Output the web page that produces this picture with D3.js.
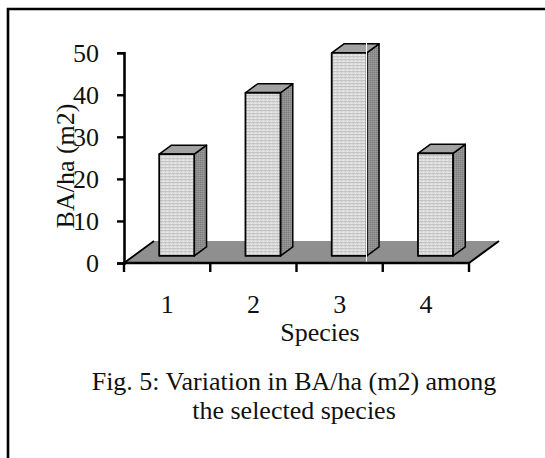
<!DOCTYPE html>
<html>
<head>
<meta charset="utf-8">
<script src="https://cdn.jsdelivr.net/npm/d3@7"></script>
<style>
  body { margin: 0; background: #fff; }
  text { font-family: "Liberation Serif", "Times New Roman", serif; fill: #111; }
</style>
</head>
<body>
<div id="chart"></div>
<script>
// data
const species = ["1", "2", "3", "4"];
const baPerHa = [24.2, 38.8, 48.3, 24.4];
const yTicks = [0, 10, 20, 30, 40, 50];
const yTitle = "BA/ha (m2)";
const xTitle = "Species";
const caption = ["Fig. 5: Variation in BA/ha (m2) among", "the selected species"];

const width = 545, height = 458;

const svg = d3.select("#chart").append("svg")
    .attr("width", width)
    .attr("height", height);

// fake 3d: floor depth offset
const depthX = 30, depthY = 22;
const barFront = 0.32, barBack = 0.73;

const x = d3.scaleBand()
    .domain(species)
    .range([124, 469])
    .paddingInner(0.594)
    .paddingOuter(0.297);

const y = d3.scaleLinear()
    .domain([0, 50])
    .range([263, 52.7]);

function proj(px, v, depth) {
    return [px + depth * depthX, y(v) - depth * depthY];
}

// patterns for the bar faces
const defs = svg.append("defs");
const pf = defs.append("pattern").attr("id", "front")
    .attr("width", 4).attr("height", 3).attr("patternUnits", "userSpaceOnUse");
pf.append("rect").attr("width", 4).attr("height", 3).attr("fill", "#dedede");
pf.append("rect").attr("y", 2).attr("width", 4).attr("height", 1).attr("fill", "#c4c4c4");
pf.append("rect").attr("x", 1).attr("y", 0).attr("width", 1).attr("height", 1).attr("fill", "#cbcbcb");
pf.append("rect").attr("x", 3).attr("y", 1).attr("width", 1).attr("height", 1).attr("fill", "#ececec");

const ps = defs.append("pattern").attr("id", "side")
    .attr("width", 2).attr("height", 2).attr("patternUnits", "userSpaceOnUse");
ps.append("rect").attr("width", 2).attr("height", 2).attr("fill", "#8e8e8e");
ps.append("rect").attr("width", 1).attr("height", 1).attr("fill", "#7c7c7c");
ps.append("rect").attr("x", 1).attr("y", 1).attr("width", 1).attr("height", 1).attr("fill", "#9a9a9a");

// frame
svg.append("path")
    .attr("d", `M8,${height} L8,9 L${width},9`)
    .attr("fill", "none")
    .attr("stroke", "#000")
    .attr("stroke-width", 2.6);

// floor
const x0 = x.range()[0], x1 = x.range()[1];
const floor = [proj(x0, 0, 0), proj(x0, 0, 1), proj(x1, 0, 1), proj(x1, 0, 0)];
svg.append("path")
    .attr("d", d3.line()(floor) + "Z")
    .attr("fill", "#8f8f8f")
    .attr("stroke", "none");
svg.append("path")
    .attr("d", d3.line()([floor[0], floor[1]]))
    .attr("stroke", "#000").attr("stroke-width", 1.8);
svg.append("path")
    .attr("d", d3.line()([floor[3], floor[2]]))
    .attr("stroke", "#000").attr("stroke-width", 2);

// bars
const bars = svg.selectAll(".bar")
    .data(species.map((s, i) => ({ s: s, v: baPerHa[i] })))
    .enter()
    .append("g")
    .attr("class", "bar");

bars.each(function(d) {
    const g = d3.select(this);
    const l = x(d.s), r = x(d.s) + x.bandwidth();
    const fbl = proj(l, 0, barFront), fbr = proj(r, 0, barFront);
    const ftl = proj(l, d.v, barFront), ftr = proj(r, d.v, barFront);
    const btl = proj(l, d.v, barBack), btr = proj(r, d.v, barBack);
    const bbr = proj(r, 0, barBack);
    // side
    g.append("path")
        .attr("d", d3.line()([fbr, ftr, btr, bbr]) + "Z")
        .attr("fill", "url(#side)")
        .attr("stroke", "#000").attr("stroke-width", 1.5).attr("stroke-linejoin", "round");
    // top
    g.append("path")
        .attr("d", d3.line()([ftl, btl, btr, ftr]) + "Z")
        .attr("fill", "#a2a2a2")
        .attr("stroke", "#000").attr("stroke-width", 1.5).attr("stroke-linejoin", "round");
    // front
    g.append("path")
        .attr("d", d3.line()([fbl, ftl, ftr, fbr]) + "Z")
        .attr("fill", "url(#front)")
        .attr("stroke", "#000").attr("stroke-width", 1.8).attr("stroke-linejoin", "round");
});

// thin white scan line seen in the figure
svg.append("line")
    .attr("x1", 366.5).attr("x2", 366.5)
    .attr("y1", 43).attr("y2", 266)
    .attr("stroke", "#fff").attr("stroke-width", 1);

// y axis
const yAxis = svg.append("g")
    .attr("transform", `translate(${x0},0)`)
    .call(d3.axisLeft(y).tickValues(yTicks).tickSize(7).tickPadding(18));
yAxis.select(".domain").attr("stroke", "#000").attr("stroke-width", 2.6);
yAxis.selectAll(".tick line").attr("stroke", "#000").attr("stroke-width", 2.4);
yAxis.selectAll(".tick text")
    .attr("font-size", 26)
    .attr("fill", "#111")
    .attr("font-family", "Liberation Serif, Times New Roman, serif");

// x axis: ticks on category boundaries
const bounds = species.map(s => x(s) - x.step() * x.paddingInner() / 2)
    .concat([x1]);
bounds[0] = x0;
svg.append("line")
    .attr("x1", x0 - 1).attr("x2", x1 + 1)
    .attr("y1", y(0)).attr("y2", y(0))
    .attr("stroke", "#000").attr("stroke-width", 2.6);
svg.selectAll(".xtick")
    .data(bounds)
    .enter()
    .append("line")
    .attr("class", "xtick")
    .attr("x1", d => d).attr("x2", d => d)
    .attr("y1", y(0)).attr("y2", y(0) + 9)
    .attr("stroke", "#000").attr("stroke-width", 2.4);

svg.selectAll(".xlabel")
    .data(species)
    .enter()
    .append("text")
    .attr("class", "xlabel")
    .attr("x", d => x(d) + x.bandwidth() / 2)
    .attr("y", 313)
    .attr("text-anchor", "middle")
    .attr("font-size", 26)
    .text(d => d);

// titles
svg.append("text")
    .attr("transform", "translate(74,166) rotate(-90)")
    .attr("text-anchor", "middle")
    .attr("font-size", 26)
    .text(yTitle);

svg.append("text")
    .attr("x", 320)
    .attr("y", 341)
    .attr("text-anchor", "middle")
    .attr("font-size", 26)
    .text(xTitle);

svg.selectAll(".caption")
    .data(caption)
    .enter()
    .append("text")
    .attr("class", "caption")
    .attr("x", 294)
    .attr("y", (d, i) => 390 + i * 29)
    .attr("text-anchor", "middle")
    .attr("font-size", 26)
    .text(d => d);
</script>
</body>
</html>
